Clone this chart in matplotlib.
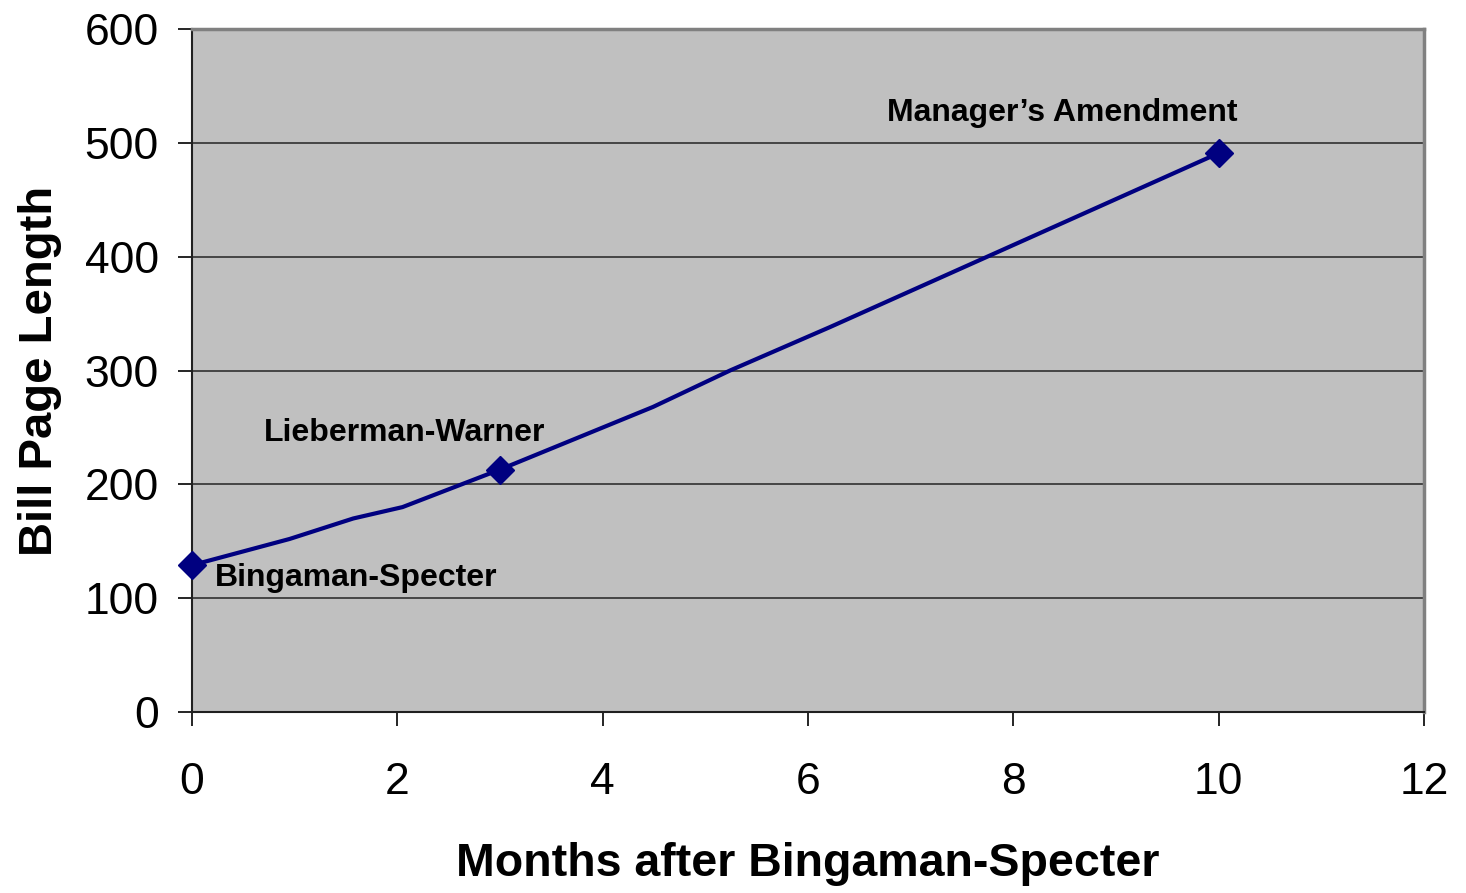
import matplotlib.pyplot as plt

# bills (marked points)
bill_names = ['Bingaman-Specter', 'Lieberman-Warner', 'Manager\u2019s Amendment']
bill_months = [0, 3, 10]
bill_pages = [129, 213, 491]

# smoothed line as drawn in the original
curve_months = [0, 0.95, 1.57, 2.05, 3.0, 4.49, 5.24, 6.21, 10]
curve_pages = [129, 152, 170, 180, 213, 268, 300, 338, 491]

# label anchor positions (data coords)
label_x = [1.6, 2.07, 8.48]
label_y = [118, 245, 526]

plt.rcParams['font.family'] = ['Liberation Sans', 'DejaVu Sans']

fig = plt.figure(figsize=(14.66, 8.93), dpi=100)
ax = fig.add_axes([0.131, 0.2027, 0.8404, 0.7648])
ax.set_facecolor('#c0c0c0')

ax.plot(curve_months, curve_pages, color='#000080', lw=3, zorder=3)
ax.plot(bill_months, bill_pages, ls='none', marker='D', ms=14,
        color='#000080', zorder=4, clip_on=False)

for name, tx, ty in zip(bill_names, label_x, label_y):
    ax.text(tx, ty, name, ha='center', va='center', fontsize=23,
            fontweight='bold', zorder=5)

ax.set_xlim(0, 12)
ax.set_ylim(0, 600)
ax.set_xticks(range(0, 13, 2))
ax.set_yticks(range(0, 601, 100))
ax.yaxis.grid(True, color='#303030', lw=1.2)
ax.set_axisbelow(True)

ax.tick_params(axis='both', labelsize=32, length=10, width=1.2,
               direction='out', color='black')
ax.tick_params(axis='x', pad=26)
ax.tick_params(axis='y', pad=14)

for s in ['top', 'right']:
    ax.spines[s].set_color('#808080')
    ax.spines[s].set_linewidth(2.5)
for s in ['left', 'bottom']:
    ax.spines[s].set_color('#202020')
    ax.spines[s].set_linewidth(1.5)

ax.set_xlabel('Months after Bingaman-Specter', fontsize=33.5,
              fontweight='bold', labelpad=28)
ax.set_ylabel('Bill Page Length', fontsize=34, fontweight='bold',
              labelpad=16)

fig.savefig('out.png', dpi=100)
